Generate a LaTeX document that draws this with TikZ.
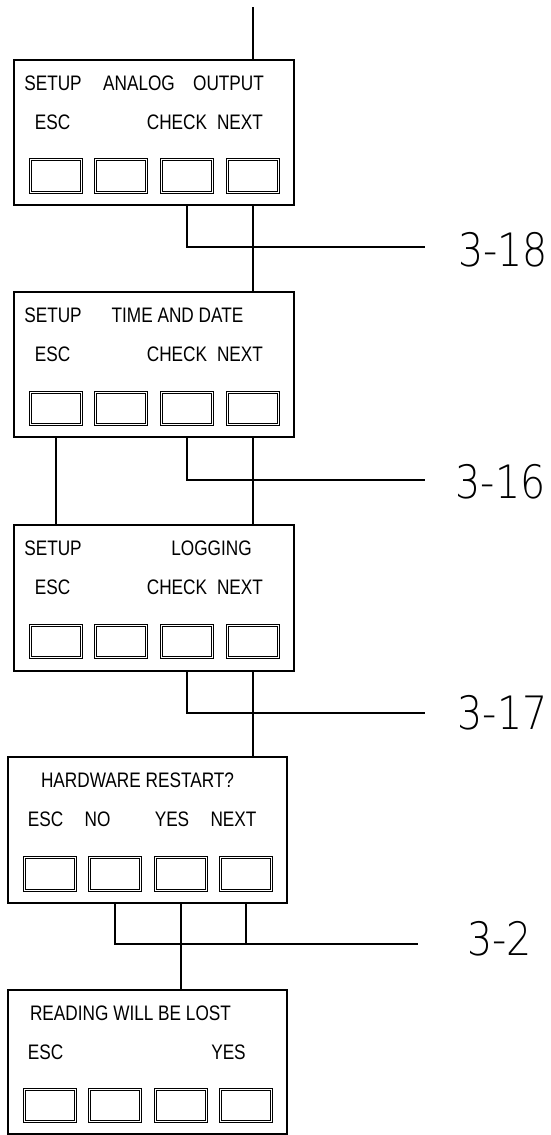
\documentclass[tikz,border=0pt]{standalone}
\usepackage{fontspec}
\setmainfont{Liberation Sans}[FakeStretch=0.82]
\newfontfamily\labfont{DejaVu Sans ExtraLight}[FakeStretch=0.86]
\begin{document}
\begin{tikzpicture}[x=1pt,y=-1pt]
\tikzset{
 panel/.style={draw, line width=1.6pt, inner sep=0pt},
 btn/.style={draw, double, double distance=1.4pt, line width=1pt, inner sep=0pt, minimum width=50.5pt, minimum height=32.5pt},
 txt/.style={anchor=base, inner sep=0pt, font=\fontsize{21}{21}\selectfont},
 lab/.style={anchor=center, inner sep=0pt, font=\labfont\fontsize{46}{46}\selectfont},
 wire/.style={line width=1.5pt},
}
\useasboundingbox (0,0) rectangle (551,1135);
% panels
\node[panel, minimum width=280pt, minimum height=145pt] (b1) at (154,132.5) {};
\node[panel, minimum width=280pt, minimum height=145pt] (b2) at (154,364.5) {};
\node[panel, minimum width=280pt, minimum height=146pt] (b3) at (154,598) {};
\node[panel, minimum width=279pt, minimum height=146pt] (b4) at (147.5,830) {};
\node[panel, minimum width=279pt, minimum height=144pt] (b5) at (147.5,1062) {};
% buttons
\foreach \x [count=\i] in {56,121,187,253} {
  \node[btn] (k1\i) at (\x,176) {};
  \node[btn] (k2\i) at (\x,408.5) {};
  \node[btn] (k3\i) at (\x,641.5) {};
}
\foreach \x [count=\i] in {50,115,181,246} {
  \node[btn] (k4\i) at (\x,874) {};
  \node[btn] (k5\i) at (\x,1105.5) {};
}
% texts panel 1
\node[txt] (t11) at (53,90) {SETUP};
\node[txt] (t12) at (139,90) {ANALOG};
\node[txt] (t13) at (228.5,90) {OUTPUT};
\node[txt] (t14) at (52.5,129) {ESC};
\node[txt] (t15) at (177,129) {CHECK};
\node[txt] (t16) at (240,129) {NEXT};
% panel 2
\node[txt] (t21) at (53,322) {SETUP};
\node[txt] (t22) at (177.5,322) {TIME AND DATE};
\node[txt] (t24) at (52.5,361) {ESC};
\node[txt] (t25) at (177,361) {CHECK};
\node[txt] (t26) at (240,361) {NEXT};
% panel 3
\node[txt] (t31) at (53,555) {SETUP};
\node[txt] (t32) at (211.5,555) {LOGGING};
\node[txt] (t34) at (52.5,594) {ESC};
\node[txt] (t35) at (177,594) {CHECK};
\node[txt] (t36) at (240,594) {NEXT};
% panel 4
\node[txt] (t41) at (137.5,787) {HARDWARE RESTART?};
\node[txt] (t44) at (45.5,826) {ESC};
\node[txt] (t45) at (97.5,826) {NO};
\node[txt] (t46) at (172,826) {YES};
\node[txt] (t47) at (233.5,826) {NEXT};
% panel 5
\node[txt] (t51) at (130.5,1020) {READING WILL BE LOST};
\node[txt] (t54) at (45.5,1059) {ESC};
\node[txt] (t55) at (228.5,1059) {YES};
% labels
\node[lab] (l18) at (503,250) {3-18};
\node[lab] (l16) at (500.5,482) {3-16};
\node[lab] (l17) at (502.5,713) {3-17};
\node[lab] (l2) at (499.5,939) {3-2};
% wire ends
\coordinate (in) at (253,7);
\coordinate (e18) at (425,247);
\coordinate (e16) at (425,480);
\coordinate (e17) at (425,713);
\coordinate (e2) at (418,944);
% wires
\draw[wire] (in) -- (in |- b1.north);
\draw[wire] (b1.south -| k13) |- (e18);
\draw[wire] (b1.south -| k14) -- (b2.north -| k14);
\draw[wire] (b2.south -| k21) -- (b3.north -| k21);
\draw[wire] (b2.south -| k23) |- (e16);
\draw[wire] (b2.south -| k24) -- (b3.north -| k24);
\draw[wire] (b3.south -| k33) |- (e17);
\draw[wire] (b3.south -| k34) -- (b4.north -| k34);
\draw[wire] (b4.south -| k42) |- (e2);
\draw[wire] (b4.south -| k44) -- (k44 |- e2);
\draw[wire] (b4.south -| k43) -- (b5.north -| k43);
\end{tikzpicture}
\end{document}
